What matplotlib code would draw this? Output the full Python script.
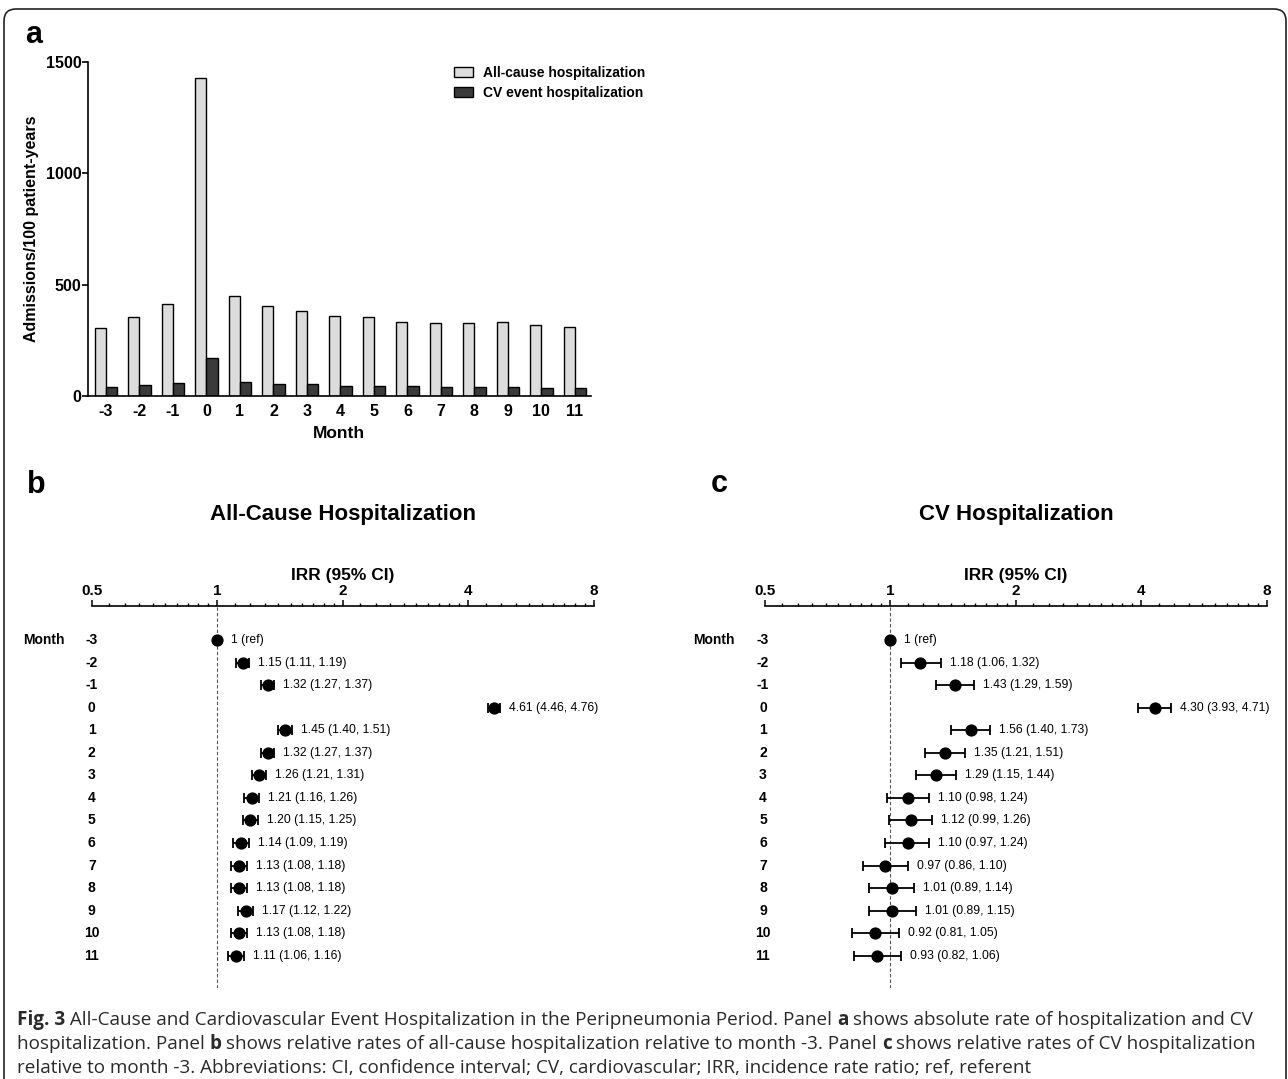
import numpy as np
import matplotlib
matplotlib.use('Agg')
import matplotlib.pyplot as plt
import matplotlib.transforms as mtransforms
from matplotlib.patches import FancyBboxPatch

plt.rcParams['font.family'] = ['Liberation Sans', 'DejaVu Sans']

# Panel a: admissions per 100 patient-years by month
months = [-3, -2, -1, 0, 1, 2, 3, 4, 5, 6, 7, 8, 9, 10, 11]
all_cause_rate = [306, 356, 411, 1428, 447, 404, 382, 361, 356, 332, 328, 328, 332, 319, 308]
cv_rate = [42, 49, 57, 171, 63, 55, 52, 45, 45, 43, 39, 39, 39, 36, 36]

# Panel b: all-cause IRR (95% CI)
all_irr = [1.00, 1.15, 1.32, 4.61, 1.45, 1.32, 1.26, 1.21, 1.20, 1.14, 1.13, 1.13, 1.17, 1.13, 1.11]
all_lo = [1.00, 1.11, 1.27, 4.46, 1.40, 1.27, 1.21, 1.16, 1.15, 1.09, 1.08, 1.08, 1.12, 1.08, 1.06]
all_hi = [1.00, 1.19, 1.37, 4.76, 1.51, 1.37, 1.31, 1.26, 1.25, 1.19, 1.18, 1.18, 1.22, 1.18, 1.16]

# Panel c: CV IRR (95% CI)
cv_irr = [1.00, 1.18, 1.43, 4.30, 1.56, 1.35, 1.29, 1.10, 1.12, 1.10, 0.97, 1.01, 1.01, 0.92, 0.93]
cv_lo = [1.00, 1.06, 1.29, 3.93, 1.40, 1.21, 1.15, 0.98, 0.99, 0.97, 0.86, 0.89, 0.89, 0.81, 0.82]
cv_hi = [1.00, 1.32, 1.59, 4.71, 1.73, 1.51, 1.44, 1.24, 1.26, 1.24, 1.10, 1.14, 1.15, 1.05, 1.06]

irr_ticks = [0.5, 1, 2, 4, 8]
irr_tick_labels = ['0.5', '1', '2', '4', '8']

W, H = 1288, 1079
fig = plt.figure(figsize=(W / 100, H / 100), dpi=100)


def px_axes(left, top, right, bottom):
    return fig.add_axes([left / W, 1 - bottom / H, (right - left) / W, (bottom - top) / H])


def fig_text(x, y, s, **kw):
    return fig.text(x / W, 1 - y / H, s, **kw)


# ---- panel a ----
axa = px_axes(88.4, 62, 591, 396)
x = np.arange(len(months))
bw = 0.34
axa.bar(x - bw / 2, all_cause_rate, bw, color='#dcdcdc', edgecolor='black', linewidth=1.0,
        label='All-cause hospitalization')
axa.bar(x + bw / 2, cv_rate, bw, color='#3a3a3a', edgecolor='black', linewidth=1.0,
        label='CV event hospitalization')
axa.set_xlim(-0.525, len(months) - 0.52)
axa.set_ylim(0, 1500)
axa.set_yticks([0, 500, 1000, 1500])
axa.set_xticks(x)
axa.set_xticklabels([str(m) for m in months])
for s in ['top', 'right']:
    axa.spines[s].set_visible(False)
for s in ['left', 'bottom']:
    axa.spines[s].set_linewidth(1.2)
axa.tick_params(axis='y', direction='out', length=4, width=1.2, labelsize=11.5, pad=1)
axa.tick_params(axis='x', direction='out', length=0, labelsize=11.5, pad=6)
for lab in axa.get_xticklabels() + axa.get_yticklabels():
    lab.set_fontweight('bold')
fig_text(32, 229, 'Admissions/100 patient-years', rotation=90, fontsize=11.5,
         fontweight='bold', ha='center', va='center')
fig_text(339, 438, 'Month', fontsize=12.5, fontweight='bold', ha='center', va='baseline')
axa.legend(loc='upper left', bbox_to_anchor=(454 / W, 1 - 66 / H), bbox_transform=fig.transFigure,
           frameon=False, prop={'weight': 'bold', 'size': 10},
           handlelength=1.37, handleheight=0.72, handletextpad=0.7, labelspacing=0.45,
           borderpad=0, borderaxespad=0)


# ---- panels b and c ----
def forest(left, right, irr, lo, hi, title, num_x, word_x):
    ax = px_axes(left, 606, right, 988)
    ax.set_xscale('log', base=2)
    ax.set_xlim(0.5, 8)
    rows = np.arange(len(months))
    step = (955.7 - 640) / (len(months) - 1)
    ax.set_ylim((988 - 640) / step, -(640 - 606) / step)

    ax.axvline(1, color='#555555', linewidth=0.8, linestyle=(0, (3, 2)), zorder=1)

    irr = np.array(irr)
    lo = np.array(lo)
    hi = np.array(hi)
    has_ci = hi > lo
    ax.errorbar(irr[has_ci], rows[has_ci], xerr=[irr[has_ci] - lo[has_ci], hi[has_ci] - irr[has_ci]],
                fmt='o', color='black', markersize=7.8, capsize=3.8, elinewidth=1.3,
                capthick=1.3, zorder=3)
    ax.plot(irr[~has_ci], rows[~has_ci], 'o', color='black', markersize=7.8, zorder=3)

    for r in rows:
        if has_ci[r]:
            lab = f'{irr[r]:.2f} ({lo[r]:.2f}, {hi[r]:.2f})'
            ax.annotate(lab, xy=(hi[r], r), xytext=(6.5, 0), textcoords='offset points',
                        va='center', ha='left', fontsize=8.7)
        else:
            ax.annotate('1 (ref)', xy=(irr[r], r), xytext=(10, 0), textcoords='offset points',
                        va='center', ha='left', fontsize=8.7)

    trans = mtransforms.blended_transform_factory(fig.transFigure, ax.transData)
    for r, m in zip(rows, months):
        ax.text(num_x / W, r, str(m), transform=trans, ha='center', va='center',
                fontsize=10, fontweight='bold')
    ax.text(word_x / W, 0, 'Month', transform=trans, ha='center', va='center',
            fontsize=10, fontweight='bold')

    for s in ['left', 'right', 'bottom']:
        ax.spines[s].set_visible(False)
    ax.spines['top'].set_linewidth(1.2)
    ax.xaxis.tick_top()
    ax.set_xticks(irr_ticks)
    ax.set_xticklabels(irr_tick_labels)
    minors = [b * (1 + k / 10) for b in irr_ticks[:-1] for k in range(1, 10)]
    ax.set_xticks(minors, minor=True)
    ax.xaxis.set_minor_formatter(plt.NullFormatter())
    ax.tick_params(axis='x', which='major', direction='out', length=4, width=1.1,
                   labelsize=11, pad=1.5)
    ax.tick_params(axis='x', which='minor', direction='out', length=2.2, width=1.0)
    for lab in ax.get_xticklabels():
        lab.set_fontweight('bold')
    ax.set_yticks([])

    cx = (left + right) / 2
    fig_text(cx, 520, title, fontsize=16, fontweight='bold', ha='center', va='baseline')
    fig_text(cx, 580, 'IRR (95% CI)', fontsize=12.5, fontweight='bold', ha='center', va='baseline')
    return ax


forest(91.8, 593.9, all_irr, all_lo, all_hi, 'All-Cause Hospitalization', 91.8, 44)
forest(764.8, 1267, cv_irr, cv_lo, cv_hi, 'CV Hospitalization', 763, 714)

# panel letters
fig_text(34, 43, 'a', fontsize=22, fontweight='bold', ha='center', va='baseline')
fig_text(36, 493, 'b', fontsize=22, fontweight='bold', ha='center', va='baseline')
fig_text(719, 492, 'c', fontsize=22, fontweight='bold', ha='center', va='baseline')

# rounded frame
frame = FancyBboxPatch((4, -20), 1282, 1090, boxstyle='round,pad=0,rounding_size=12',
                       transform=mtransforms.IdentityTransform(), fill=False,
                       linewidth=1.2, edgecolor='#222222')
fig.add_artist(frame)

# caption with bold fragments
caption_lines = [
    [('Fig. 3', True),
     (' All-Cause and Cardiovascular Event Hospitalization in the Peripneumonia Period. Panel ', False),
     ('a', True), (' shows absolute rate of hospitalization and CV', False)],
    [('hospitalization. Panel ', False), ('b', True),
     (' shows relative rates of all-cause hospitalization relative to month -3. Panel ', False),
     ('c', True), (' shows relative rates of CV hospitalization', False)],
    [('relative to month -3. Abbreviations: CI, confidence interval; CV, cardiovascular; '
      'IRR, incidence rate ratio; ref, referent', False)],
]
cap_font = ['Open Sans', 'DejaVu Sans']
renderer = fig.canvas.get_renderer()


def text_width(s, size, bold):
    kw = dict(fontsize=size, fontweight='bold' if bold else 'normal', family=cap_font)
    t1 = fig.text(0, 0, 'x' + s + 'x', **kw)
    t2 = fig.text(0, 0, 'xx', **kw)
    w = t1.get_window_extent(renderer).width - t2.get_window_extent(renderer).width
    t1.remove()
    t2.remove()
    return w


base = 11
w1 = sum(text_width(s, base, b) for s, b in caption_lines[0])
cap_size = base * (1257 - 17) / w1

for line, y in zip(caption_lines, [1025, 1049, 1073]):
    xpos = 17
    for s, b in line:
        fig_text(xpos, y, s, fontsize=cap_size, fontweight='bold' if b else 'normal',
                 family=cap_font, color='#2a2a2a', ha='left', va='baseline')
        xpos += text_width(s, cap_size, b)

fig.savefig('out.png', dpi=100)
